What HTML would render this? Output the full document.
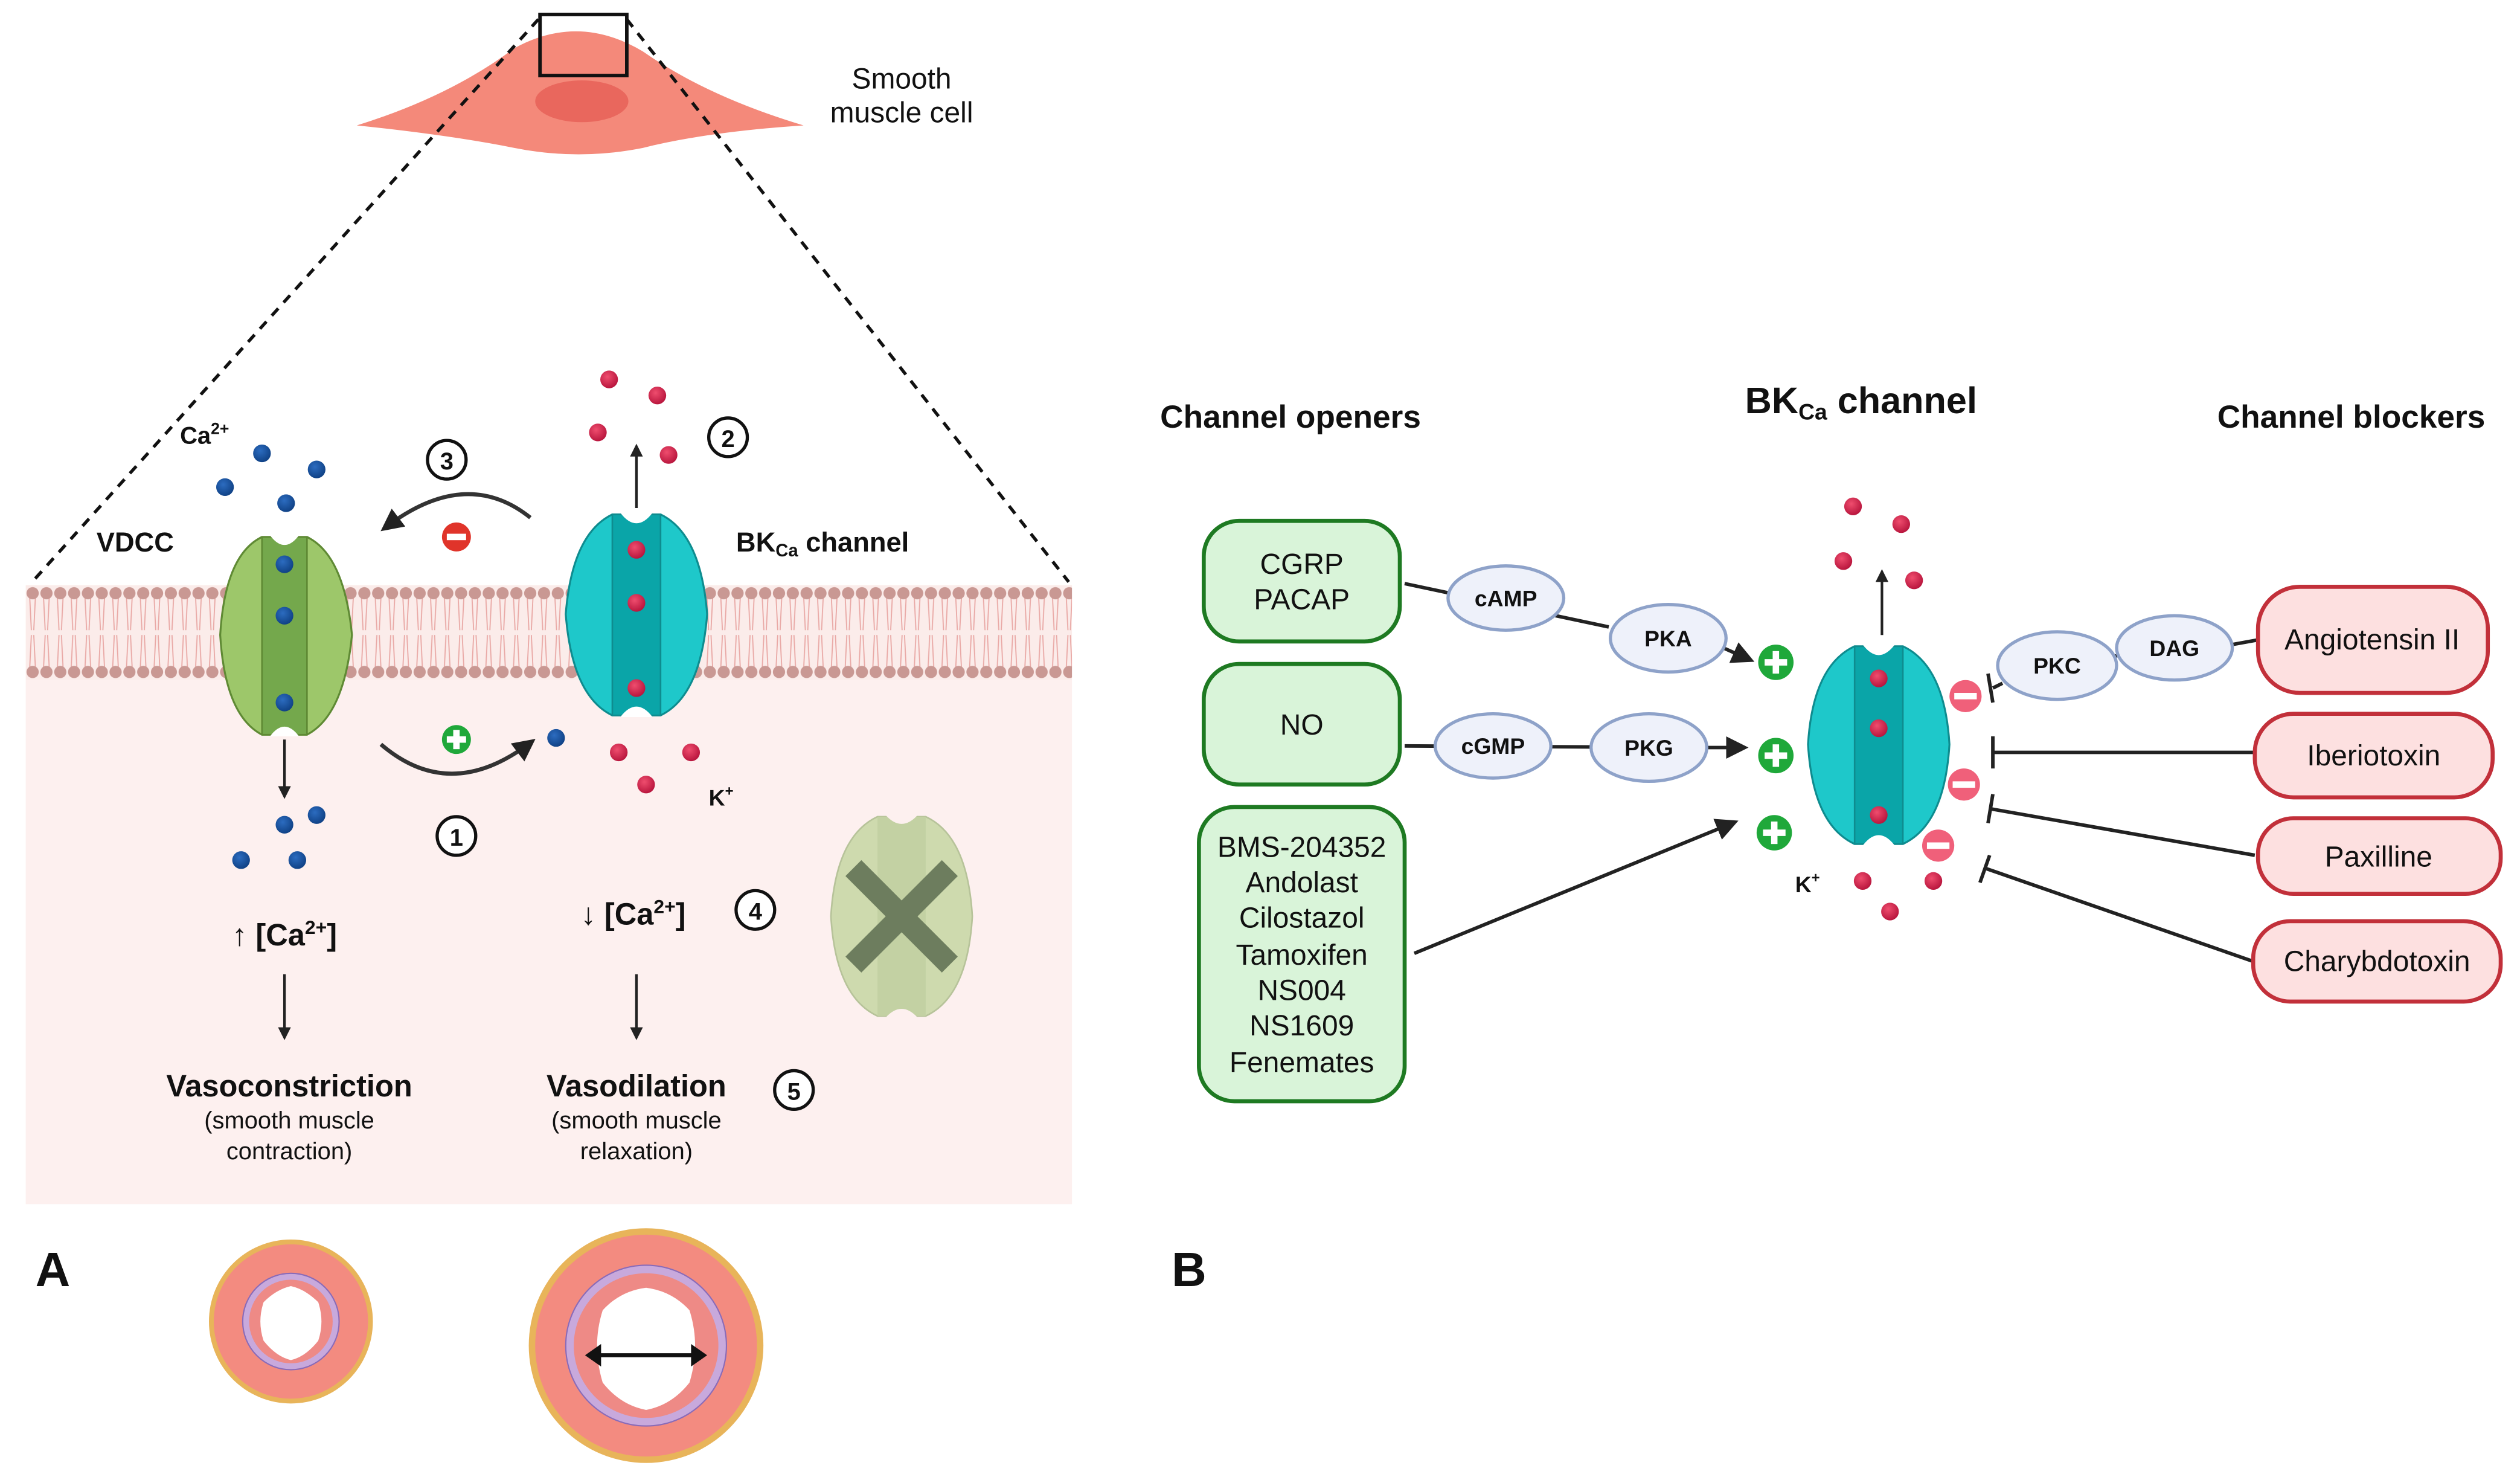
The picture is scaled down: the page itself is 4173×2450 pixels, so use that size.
<!DOCTYPE html>
<html><head><meta charset="utf-8"><style>
html,body{margin:0;padding:0;background:#fff}
svg{display:block}
text{font-family:"Liberation Sans",sans-serif;fill:#111}
.b{font-weight:bold}
</style></head><body>
<svg width="4173" height="2450" viewBox="0 0 1568 920.6" xmlns="http://www.w3.org/2000/svg">
<defs>
<pattern id="mem" x="16" y="364" width="8.6" height="59" patternUnits="userSpaceOnUse">
<path d="M2.5 8 L3.5 28 M6 8 L5 28 M2.5 51 L3.5 31 M6 51 L5 31" stroke="#e9a9a6" stroke-width="0.7" fill="none"/>
<circle cx="4.3" cy="5" r="3.8" fill="#c99893"/>
<circle cx="4.3" cy="54" r="3.8" fill="#c99893"/>
</pattern>
<marker id="ah" markerWidth="8" markerHeight="8" refX="6" refY="4" orient="auto" markerUnits="userSpaceOnUse"><path d="M0 0 L8 4 L0 8 Z" fill="#222"/></marker>
<marker id="ahb" markerWidth="14" markerHeight="14" refX="10" refY="7" orient="auto" markerUnits="userSpaceOnUse"><path d="M0 0 L14 7 L0 14 Z" fill="#222"/></marker>
<radialGradient id="rd" cx="0.4" cy="0.35" r="0.7"><stop offset="0" stop-color="#ef4d6e"/><stop offset="1" stop-color="#b5123a"/></radialGradient>
<radialGradient id="bl" cx="0.4" cy="0.35" r="0.7"><stop offset="0" stop-color="#2c6cc0"/><stop offset="1" stop-color="#0e3f82"/></radialGradient>
<g id="rdot"><circle r="5.5" fill="url(#rd)"/></g>
<g id="bdot"><circle r="5.5" fill="url(#bl)"/></g>
</defs>

<!-- LEFT PANEL -->
<rect x="16" y="423" width="651" height="326" fill="#fdf0ef"/>
<rect x="16" y="364" width="651" height="59" fill="#fbecea"/>
<rect x="16" y="364" width="651" height="59" fill="url(#mem)"/>

<!-- cell -->
<path d="M222 78 Q280 60 320 30 Q360 8 400 32 Q440 60 500 78 Q440 82 400 92 Q360 100 320 92 Q280 84 222 78 Z" fill="#f4897a"/>
<ellipse cx="362" cy="63" rx="29" ry="13" fill="#e9675d"/>
<!-- dashed zoom lines -->
<line x1="335" y1="12" x2="20" y2="362" stroke="#111" stroke-width="2" stroke-dasharray="6,5"/>
<line x1="390" y1="12" x2="665" y2="362" stroke="#111" stroke-width="2" stroke-dasharray="6,5"/>
<rect x="336" y="9" width="54" height="38" fill="none" stroke="#111" stroke-width="2.2"/>
<text x="561" y="55" font-size="18" text-anchor="middle">Smooth</text>
<text x="561" y="76" font-size="18" text-anchor="middle">muscle cell</text>

<!-- VDCC -->
<g>
<path d="M163 334 Q140 345 137 395 Q140 445 163 457 L191 457 Q214 445 219 395 Q214 345 191 334 Z" fill="#9dc76a" stroke="#5f8a34" stroke-width="1.2"/>
<rect x="163" y="334" width="28" height="123" fill="#74a84c" stroke="#5f8a34" stroke-width="1"/>
<path d="M168 333 Q177 345 186 333 Z M168 458 Q177 446 186 458 Z" fill="#fff"/>
<use href="#bdot" x="177" y="351"/><use href="#bdot" x="177" y="383"/><use href="#bdot" x="177" y="437"/>
</g>
<text x="60" y="343" font-size="17" class="b">VDCC</text>
<text x="112" y="276" font-size="15" class="b">Ca<tspan font-size="10" dy="-6">2+</tspan></text>
<use href="#bdot" x="163" y="282"/><use href="#bdot" x="197" y="292"/><use href="#bdot" x="140" y="303"/><use href="#bdot" x="178" y="313"/>
<line x1="177" y1="460" x2="177" y2="495" stroke="#222" stroke-width="1.6" marker-end="url(#ah)"/>
<use href="#bdot" x="197" y="507"/><use href="#bdot" x="177" y="513"/><use href="#bdot" x="150" y="535"/><use href="#bdot" x="185" y="535"/>
<text x="177" y="588" font-size="19" class="b" text-anchor="middle">↑ [Ca<tspan font-size="12" dy="-7">2+</tspan><tspan dy="7">]</tspan></text>
<line x1="177" y1="606" x2="177" y2="645" stroke="#222" stroke-width="1.6" marker-end="url(#ah)"/>
<text x="180" y="682" font-size="19" class="b" text-anchor="middle">Vasoconstriction</text>
<text x="180" y="702" font-size="15" text-anchor="middle">(smooth muscle</text>
<text x="180" y="721" font-size="15" text-anchor="middle">contraction)</text>

<!-- BK channel -->
<g>
<path d="M381 320 Q356 332 352 382 Q356 433 381 445 L411 445 Q436 433 440 382 Q436 332 411 320 Z" fill="#1ec8ca" stroke="#0e8c8f" stroke-width="1.2"/>
<rect x="381" y="320" width="30" height="125" fill="#0aa5a8" stroke="#0e8c8f" stroke-width="1"/>
<path d="M386 319 Q396 332 406 319 Z M386 446 Q396 433 406 446 Z" fill="#fff"/>
<use href="#rdot" x="396" y="342"/><use href="#rdot" x="396" y="375"/><use href="#rdot" x="396" y="428"/>
</g>
<text x="458" y="343" font-size="17" class="b">BK<tspan font-size="11" dy="3">Ca</tspan><tspan dy="-3"> channel</tspan></text>
<use href="#rdot" x="379" y="236"/><use href="#rdot" x="409" y="246"/><use href="#rdot" x="372" y="269"/><use href="#rdot" x="416" y="283"/>
<line x1="396" y1="316" x2="396" y2="278" stroke="#222" stroke-width="1.6" marker-end="url(#ah)"/>
<circle cx="453" cy="272" r="12" fill="#fff" stroke="#111" stroke-width="2"/><text x="453" y="278" font-size="15" class="b" text-anchor="middle">2</text>
<circle cx="278" cy="286" r="12" fill="#fff" stroke="#111" stroke-width="2"/><text x="278" y="292" font-size="15" class="b" text-anchor="middle">3</text>
<path d="M330 322 Q290 290 240 328" fill="none" stroke="#333" stroke-width="2.5" marker-end="url(#ahb)"/>
<circle cx="284" cy="334" r="9" fill="#e0342a"/><rect x="278" y="332" width="12" height="4" fill="#fff"/>
<path d="M237 463 Q280 500 330 462" fill="none" stroke="#333" stroke-width="2.5" marker-end="url(#ahb)"/>
<circle cx="284" cy="460" r="9" fill="#1fa83a"/><rect x="278" y="458" width="12" height="4" fill="#fff"/><rect x="282" y="454" width="4" height="12" fill="#fff"/>
<use href="#bdot" x="346" y="459"/>
<use href="#rdot" x="385" y="468"/><use href="#rdot" x="430" y="468"/><use href="#rdot" x="402" y="488"/>
<text x="441" y="501" font-size="14" class="b">K<tspan font-size="9" dy="-6">+</tspan></text>
<circle cx="284" cy="520" r="12" fill="#fff" stroke="#111" stroke-width="2"/><text x="284" y="526" font-size="15" class="b" text-anchor="middle">1</text>
<text x="394" y="575" font-size="19" class="b" text-anchor="middle">↓ [Ca<tspan font-size="12" dy="-7">2+</tspan><tspan dy="7">]</tspan></text>
<circle cx="470" cy="566" r="12" fill="#fff" stroke="#111" stroke-width="2"/><text x="470" y="572" font-size="15" class="b" text-anchor="middle">4</text>
<line x1="396" y1="606" x2="396" y2="645" stroke="#222" stroke-width="1.6" marker-end="url(#ah)"/>
<text x="396" y="682" font-size="19" class="b" text-anchor="middle">Vasodilation</text>
<text x="396" y="702" font-size="15" text-anchor="middle">(smooth muscle</text>
<text x="396" y="721" font-size="15" text-anchor="middle">relaxation)</text>
<circle cx="494" cy="678" r="12" fill="#fff" stroke="#111" stroke-width="2"/><text x="494" y="684" font-size="15" class="b" text-anchor="middle">5</text>
<!-- faded channel -->
<g opacity="0.55">
<path d="M546 508 Q520 520 517 570 Q520 620 546 632 L576 632 Q602 620 605 570 Q602 520 576 508 Z" fill="#a8c97a" stroke="#7fa055"/>
<rect x="546" y="508" width="30" height="124" fill="#94b866"/>
<path d="M551 507 Q561 518 571 507 Z M551 633 Q561 622 571 633 Z" fill="#fdf0ef"/>
</g>
<path d="M531 540 L591 600 M591 540 L531 600" stroke="#6d7d5e" stroke-width="14"/>

<!-- A + vessels -->
<text x="22" y="800" font-size="30" class="b">A</text>
<g>
<circle cx="181" cy="822" r="51" fill="#e8b45a"/>
<circle cx="181" cy="822" r="48" fill="#f38b80"/>
<circle cx="181" cy="822" r="30" fill="#c8a9dc" stroke="#8a6bb8" stroke-width="0.8"/>
<circle cx="181" cy="822" r="26" fill="#ee8a86"/>
<path d="M181 800 Q172 802 164 810 Q160 822 164 834 Q172 844 181 846 Q190 844 198 834 Q202 822 198 810 Q190 802 181 800 Z" fill="#fff"/>
</g>
<g>
<circle cx="402" cy="837" r="73" fill="#e8b45a"/>
<circle cx="402" cy="837" r="69" fill="#f38b80"/>
<circle cx="402" cy="837" r="50" fill="#c8a9dc" stroke="#8a6bb8" stroke-width="0.8"/>
<circle cx="402" cy="837" r="45" fill="#ee8a86"/>
<path d="M402 801 Q386 803 375 815 Q368 837 375 860 Q386 874 402 877 Q418 874 429 860 Q436 837 429 815 Q418 803 402 801 Z" fill="#fff"/>
<line x1="370" y1="843" x2="434" y2="843" stroke="#111" stroke-width="2.5"/>
<path d="M364 843 L374 836 L374 850 Z M440 843 L430 836 L430 850 Z" fill="#111"/>
</g>

<!-- RIGHT PANEL -->
<text x="729" y="800" font-size="30" class="b">B</text>
<text x="803" y="266" font-size="20" class="b" text-anchor="middle">Channel openers</text>
<text x="1158" y="257" font-size="23" class="b" text-anchor="middle">BK<tspan font-size="14" dy="4">Ca</tspan><tspan dy="-4"> channel</tspan></text>
<text x="1463" y="266" font-size="20" class="b" text-anchor="middle">Channel blockers</text>

<g fill="#d9f4d9" stroke="#1e7a22" stroke-width="2.5">
<rect x="749" y="324" width="122" height="75" rx="22"/>
<rect x="749" y="413" width="122" height="75" rx="22"/>
<rect x="746" y="502" width="128" height="183" rx="22"/>
</g>
<g font-size="18" text-anchor="middle">
<text x="810" y="357">CGRP</text><text x="810" y="379">PACAP</text>
<text x="810" y="457">NO</text>
<text x="810" y="533">BMS-204352</text><text x="810" y="555">Andolast</text><text x="810" y="577">Cilostazol</text><text x="810" y="600">Tamoxifen</text><text x="810" y="622">NS004</text><text x="810" y="644">NS1609</text><text x="810" y="667">Fenemates</text>
</g>
<g stroke="#222" stroke-width="2.2" fill="none">
<line x1="874" y1="363" x2="1001" y2="390"/>
<line x1="1070" y1="402" x2="1088" y2="410" marker-end="url(#ahb)"/>
<line x1="874" y1="464" x2="1060" y2="465"/>
<line x1="1060" y1="465" x2="1084" y2="465" marker-end="url(#ahb)"/>
<line x1="880" y1="593" x2="1078" y2="512" marker-end="url(#ahb)"/>
</g>
<g fill="#eef1fa" stroke="#8ea2c9" stroke-width="2">
<ellipse cx="937" cy="372" rx="36" ry="20"/>
<ellipse cx="1038" cy="397" rx="36" ry="21"/>
<ellipse cx="929" cy="464" rx="36" ry="20"/>
<ellipse cx="1026" cy="465" rx="36" ry="21"/>
</g>
<g font-size="14" class="b" text-anchor="middle">
<text x="937" y="377">cAMP</text><text x="1038" y="402">PKA</text><text x="929" y="469">cGMP</text><text x="1026" y="470">PKG</text>
</g>
<g>
<circle cx="1105" cy="412" r="11" fill="#1fa83a"/><circle cx="1105" cy="470" r="11" fill="#1fa83a"/><circle cx="1104" cy="518" r="11" fill="#1fa83a"/>
<g fill="#fff"><rect x="1098" y="410" width="14" height="4"/><rect x="1103" y="405" width="4" height="14"/>
<rect x="1098" y="468" width="14" height="4"/><rect x="1103" y="463" width="4" height="14"/>
<rect x="1097" y="516" width="14" height="4"/><rect x="1102" y="511" width="4" height="14"/></g>
</g>
<!-- center channel -->
<g>
<path d="M1154 402 Q1128 414 1125 463 Q1128 513 1154 525 L1184 525 Q1210 513 1213 463 Q1210 414 1184 402 Z" fill="#1ec8ca" stroke="#0e8c8f" stroke-width="1.2"/>
<rect x="1154" y="402" width="30" height="123" fill="#0aa5a8" stroke="#0e8c8f" stroke-width="1"/>
<path d="M1159 401 Q1169 414 1179 401 Z M1159 526 Q1169 513 1179 526 Z" fill="#fff"/>
<use href="#rdot" x="1169" y="422"/><use href="#rdot" x="1169" y="453"/><use href="#rdot" x="1169" y="507"/>
</g>
<use href="#rdot" x="1153" y="315"/><use href="#rdot" x="1183" y="326"/><use href="#rdot" x="1147" y="349"/><use href="#rdot" x="1191" y="361"/>
<line x1="1171" y1="395" x2="1171" y2="356" stroke="#222" stroke-width="1.6" marker-end="url(#ah)"/>
<text x="1117" y="555" font-size="14" class="b">K<tspan font-size="9" dy="-6">+</tspan></text>
<use href="#rdot" x="1159" y="548"/><use href="#rdot" x="1203" y="548"/><use href="#rdot" x="1176" y="567"/>
<g fill="#f0607a"><circle cx="1223" cy="433" r="10"/><circle cx="1222" cy="488" r="10"/><circle cx="1206" cy="526" r="10"/></g>
<g fill="#fff"><rect x="1216" y="431" width="14" height="4"/><rect x="1215" y="486" width="14" height="4"/><rect x="1199" y="524" width="14" height="4"/></g>

<g stroke="#222" stroke-width="2.2" fill="none">
<line x1="1383" y1="402" x2="1405" y2="398"/>
<line x1="1310" y1="410" x2="1320" y2="407"/>
<line x1="1246" y1="425" x2="1240" y2="428"/><line x1="1237" y1="419" x2="1240" y2="437"/>
<line x1="1403" y1="468" x2="1240" y2="468"/><line x1="1240" y1="458" x2="1240" y2="478"/>
<line x1="1403" y1="532" x2="1238" y2="503"/><line x1="1240" y1="494" x2="1237" y2="512"/>
<line x1="1402" y1="598" x2="1235" y2="540"/><line x1="1238" y1="532" x2="1232" y2="549"/>
</g>
<g fill="#eef1fa" stroke="#8ea2c9" stroke-width="2">
<ellipse cx="1280" cy="414" rx="37" ry="21"/>
<ellipse cx="1353" cy="403" rx="36" ry="20"/>
</g>
<g font-size="14" class="b" text-anchor="middle"><text x="1280" y="419">PKC</text><text x="1353" y="408">DAG</text></g>
<g fill="#fde0e0" stroke="#c2303a" stroke-width="2.5">
<rect x="1405" y="365" width="143" height="66" rx="26"/>
<rect x="1403" y="444" width="148" height="52" rx="24"/>
<rect x="1405" y="509" width="151" height="47" rx="22"/>
<rect x="1402" y="573" width="154" height="50" rx="23"/>
</g>
<g font-size="18" text-anchor="middle">
<text x="1476" y="404">Angiotensin II</text>
<text x="1477" y="476">Iberiotoxin</text>
<text x="1480" y="539">Paxilline</text>
<text x="1479" y="604">Charybdotoxin</text>
</g>
</svg>
</body></html>
